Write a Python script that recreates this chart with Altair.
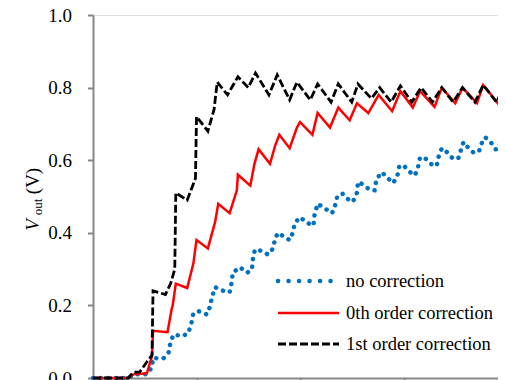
import altair as alt
import pandas as pd

# ---- data ----
t_none = [0, 0.34, 0.40, 0.52, 0.57, 0.58, 0.68, 0.73, 0.75, 0.78,
          0.86, 0.92, 0.95, 0.97, 1.02, 1.10, 1.13, 1.15, 1.18, 1.26,
          1.32, 1.34, 1.35, 1.42, 1.49, 1.536, 1.546, 1.565, 1.633, 1.69,
          1.74, 1.76, 1.79, 1.84, 1.90, 1.93, 1.95, 2.00, 2.07, 2.13,
          2.14, 2.17, 2.24, 2.31, 2.34, 2.36, 2.41, 2.45, 2.51, 2.55,
          2.56, 2.61, 2.68, 2.72, 2.74, 2.79, 2.85, 2.90, 2.94, 2.96,
          3.00, 3.05, 3.11, 3.14, 3.16, 3.21, 3.27, 3.32, 3.34, 3.37,
          3.43, 3.48, 3.53, 3.56, 3.58, 3.63, 3.68, 3.73, 3.76, 3.79,
          3.85, 3.89, 3.92, 3.95, 3.97]
v_none = [0, 0, 0.01, 0.01, 0.03, 0.055, 0.054, 0.07, 0.10, 0.12,
          0.115, 0.123, 0.15, 0.178, 0.184, 0.175, 0.196, 0.223, 0.25, 0.24,
          0.236, 0.263, 0.29, 0.305, 0.29, 0.30, 0.33, 0.354, 0.35, 0.34,
          0.357, 0.385, 0.40, 0.39, 0.38, 0.40, 0.427, 0.443, 0.427, 0.42,
          0.448, 0.48, 0.467, 0.454, 0.476, 0.50, 0.508, 0.495, 0.485, 0.51,
          0.54, 0.533, 0.517, 0.517, 0.548, 0.567, 0.55, 0.537, 0.556, 0.584,
          0.586, 0.57, 0.558, 0.58, 0.608, 0.605, 0.589, 0.584, 0.61, 0.633,
          0.62, 0.603, 0.606, 0.633, 0.65, 0.633, 0.62, 0.625, 0.65, 0.663,
          0.647, 0.63, 0.633, 0.66, 0.683]

t_zero = [0, 0.34, 0.39, 0.52, 0.57, 0.58, 0.72, 0.76, 0.77, 0.80,
          0.91, 0.97, 1.00, 1.11, 1.18, 1.21, 1.32, 1.39, 1.40, 1.52,
          1.56, 1.60, 1.71, 1.76, 1.80, 1.90, 1.97, 2.00, 2.12, 2.17,
          2.29, 2.37, 2.48, 2.55, 2.66, 2.76, 2.89, 2.97, 3.09, 3.16,
          3.30, 3.37, 3.50, 3.57, 3.71, 3.77, 3.91, 3.98]
v_zero = [0, 0, 0.01, 0.013, 0.06, 0.13, 0.126, 0.19, 0.20, 0.26,
          0.248, 0.316, 0.38, 0.357, 0.43, 0.48, 0.454, 0.517, 0.56, 0.53,
          0.59, 0.63, 0.59, 0.64, 0.67, 0.633, 0.69, 0.705, 0.67, 0.73,
          0.69, 0.745, 0.71, 0.757, 0.73, 0.78, 0.735, 0.79, 0.745, 0.79,
          0.747, 0.80, 0.757, 0.80, 0.757, 0.807, 0.757, 0.80]

t_first = [0, 0.34, 0.39, 0.45, 0.52, 0.57, 0.58, 0.70, 0.75, 0.79,
           0.80, 0.91, 0.99, 1.00, 1.11, 1.17, 1.20, 1.30, 1.40, 1.50,
           1.57, 1.70, 1.78, 1.90, 1.97, 2.10, 2.17, 2.30, 2.37, 2.50,
           2.56, 2.69, 2.77, 2.88, 2.97, 3.08, 3.17, 3.28, 3.37, 3.48,
           3.57, 3.69, 3.77, 3.90, 3.98]
v_first = [0, 0, 0.016, 0.016, 0.044, 0.063, 0.24, 0.23, 0.26, 0.30,
           0.51, 0.49, 0.55, 0.72, 0.68, 0.74, 0.815, 0.78, 0.83, 0.80,
           0.84, 0.78, 0.835, 0.766, 0.815, 0.766, 0.81, 0.76, 0.81, 0.76,
           0.81, 0.77, 0.80, 0.76, 0.805, 0.76, 0.80, 0.76, 0.80, 0.76,
           0.80, 0.76, 0.807, 0.76, 0.81]

series_names = ["no correction", "0th order correction", "1st order correction"]
series_colors = ["#0070C0", "#FF0000", "#000000"]
y_ticks = [0.0, 0.2, 0.4, 0.6, 0.8, 1.0]
x_ticks = [0, 1, 2, 3, 4]
y_title_parts = ["V", "out", "(V)"]

FONT = "Liberation Serif"
AXIS_GRAY = "#878787"

# plot area runs past the right edge of the window, as in the reference
x_scale = alt.Scale(domain=[0, 4], range=[0, 414], nice=False, zero=False)
y_scale = alt.Scale(domain=[0, 1], nice=False)
x_axis = alt.Axis(values=x_ticks, labels=False, title=None, grid=False,
                  tickSize=5, tickColor=AXIS_GRAY, tickWidth=2,
                  domainColor=AXIS_GRAY, domainWidth=2)
y_axis = alt.Axis(values=y_ticks, format=".1f", title=None, grid=False,
                  labelFont=FONT, labelFontSize=19, labelColor="black",
                  labelPadding=16, tickSize=5.5, tickColor=AXIS_GRAY,
                  tickWidth=2, domainColor=AXIS_GRAY, domainWidth=2)


def line_layer(t, v, **mark):
    df = pd.DataFrame({"t": t, "v": v})
    return alt.Chart(df).mark_line(**mark).encode(
        x=alt.X("t:Q", scale=x_scale, axis=x_axis),
        y=alt.Y("v:Q", scale=y_scale, axis=y_axis),
    )


one = pd.DataFrame({"k": [0]})

blue = line_layer(t_none, v_none, color=series_colors[0], strokeWidth=4.5,
                  strokeDash=[0.1, 7.5], strokeCap="round")
red = line_layer(t_zero, v_zero, color=series_colors[1], strokeWidth=2.5)
black = line_layer(t_first, v_first, color=series_colors[2], strokeWidth=2.8,
                   strokeDash=[8, 3])

# legend (drawn by hand inside the plot)
leg_x0, leg_x1, leg_tx = 185, 246, 253
leg_ys = [266, 298, 329]
legend_layers = []
leg_styles = [
    dict(strokeWidth=4.5, strokeDash=[0.1, 10.4], strokeCap="round"),
    dict(strokeWidth=2.5),
    dict(strokeWidth=2.8, strokeDash=[8, 3]),
]
for name, col, ly, st in zip(series_names, series_colors, leg_ys, leg_styles):
    x1 = leg_x1 - 8 if st.get("strokeCap") == "round" else leg_x1
    legend_layers.append(
        alt.Chart(one).mark_rule(color=col, **st).encode(
            x=alt.value(leg_x0), x2=alt.value(x1), y=alt.value(ly))
    )
    legend_layers.append(
        alt.Chart(one).mark_text(font=FONT, fontSize=18.5, align="left",
                                 baseline="middle", color="black").encode(
            x=alt.value(leg_tx), y=alt.value(ly), text=alt.value(name))
    )

# y-axis title  V_out (V)
title_layers = [
    alt.Chart(one).mark_text(font=FONT, fontSize=19, fontStyle="italic", angle=270,
                             align="center", baseline="middle", color="black").encode(
        x=alt.value(-60), y=alt.value(210), text=alt.value(y_title_parts[0])),
    alt.Chart(one).mark_text(font=FONT, fontSize=13, angle=270,
                             align="center", baseline="middle", color="black").encode(
        x=alt.value(-55), y=alt.value(192), text=alt.value(y_title_parts[1])),
    alt.Chart(one).mark_text(font=FONT, fontSize=19, angle=270,
                             align="center", baseline="middle", color="black").encode(
        x=alt.value(-60), y=alt.value(166), text=alt.value(y_title_parts[2])),
]

chart = alt.layer(blue, red, black, *legend_layers, *title_layers).properties(
    width=405, height=363,
    autosize=alt.AutoSizeParams(type="none"),
    padding={"left": 85, "top": 7, "right": 0, "bottom": 4},
).configure_view(stroke=None).configure(background="white")

chart.save("out.html", embed_options={"renderer": "svg", "actions": False})
